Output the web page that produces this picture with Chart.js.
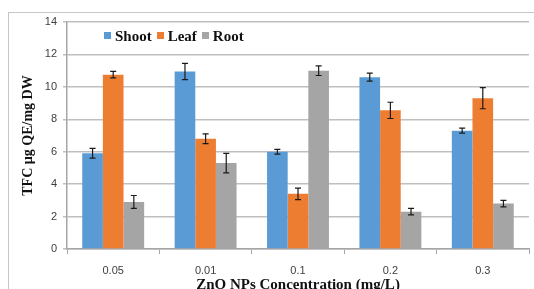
<!DOCTYPE html>
<html>
<head>
<meta charset="utf-8">
<script src="https://cdn.jsdelivr.net/npm/chart.js@4/dist/chart.umd.min.js"></script>
<style>
  html, body { margin: 0; padding: 0; background: #fff; overflow: hidden; }
  .wrap { position: relative; width: 534px; height: 289px; }
  .frame { position: absolute; left: 8px; top: 12px; width: 540px; height: 300px; border: 1.5px solid #c6c6c6; box-sizing: border-box; }
  canvas { position: absolute; left: 0; top: 0; }
  .legend { position: absolute; left: 104px; top: 28px; font: bold 15px "Liberation Serif", serif; color: #111; white-space: nowrap; }
  .legend span { margin-right: 5px; }
  .legend i { display: inline-block; width: 7px; height: 7px; margin-right: 4px; vertical-align: 2px; }
</style>
</head>
<body>
<div class="wrap">
  <div class="frame"></div>
  <canvas id="chart" width="534" height="289"></canvas>
  <div class="legend" data-legend></div>
</div>
<script>
const categories = ['0.05', '0.01', '0.1', '0.2', '0.3'];
const seriesNames = ['Shoot', 'Leaf', 'Root'];
const seriesColors = ['#5B9BD5', '#ED7D31', '#A5A5A5'];
const shoot = [5.9, 10.95, 6.0, 10.6, 7.3];
const leaf = [10.75, 6.8, 3.4, 8.55, 9.3];
const root = [2.9, 5.3, 11.0, 2.3, 2.8];
const shootErr = [0.3, 0.5, 0.15, 0.25, 0.15];
const leafErr = [0.2, 0.3, 0.35, 0.5, 0.65];
const rootErr = [0.4, 0.6, 0.3, 0.2, 0.2];
const yTicks = [0, 2, 4, 6, 8, 10, 12, 14];

const values = [shoot, leaf, root];
const errors = [shootErr, leafErr, rootErr];

const legendEl = document.querySelector('[data-legend]');
seriesNames.forEach((name, i) => {
  const s = document.createElement('span');
  s.innerHTML = `<i style="background:${seriesColors[i]}"></i>${name}`;
  legendEl.appendChild(s);
});

// barres d'erreur dessinées depuis les échelles
const errorBars = {
  id: 'errorBars',
  afterDatasetsDraw(chart) {
    const { ctx, scales: { y } } = chart;
    ctx.save();
    ctx.strokeStyle = '#1a1a1a';
    ctx.lineWidth = 1.2;
    chart.data.datasets.forEach((ds, di) => {
      const meta = chart.getDatasetMeta(di);
      meta.data.forEach((bar, i) => {
        const v = ds.data[i];
        const e = errors[di][i];
        const x = bar.x;
        const top = y.getPixelForValue(v + e);
        const bot = y.getPixelForValue(v - e);
        ctx.beginPath();
        ctx.moveTo(x, top); ctx.lineTo(x, bot);
        ctx.moveTo(x - 3, top); ctx.lineTo(x + 3, top);
        ctx.moveTo(x - 3, bot); ctx.lineTo(x + 3, bot);
        ctx.stroke();
      });
    });
    ctx.restore();
  }
};

new Chart(document.getElementById('chart'), {
  type: 'bar',
  data: {
    labels: categories,
    datasets: seriesNames.map((name, i) => ({
      label: name,
      data: values[i],
      backgroundColor: seriesColors[i],
      categoryPercentage: 0.67,
      barPercentage: 1.0,
    })),
  },
  plugins: [errorBars],
  options: {
    responsive: false,
    animation: false,
    layout: { padding: { left: 8, top: 22, right: 5, bottom: 0 } },
    plugins: { legend: { display: false }, tooltip: { enabled: false } },
    scales: {
      x: {
        afterFit: (s) => { s.height = 40; },
        grid: { drawOnChartArea: false, offset: true, tickLength: 5, color: '#a6a6a6' },
        border: { color: '#a6a6a6', width: 1.5 },
        ticks: { color: '#404040', font: { family: 'Liberation Sans', size: 11 }, padding: 10 },
        title: {
          display: true,
          text: 'ZnO NPs Concentration (mg/L)',
          color: '#111',
          font: { family: 'Liberation Serif', size: 15, weight: 'bold' },
          padding: { top: 0, bottom: -5 },
        },
      },
      y: {
        min: 0,
        max: 14,
        afterFit: (s) => { s.width = 59; },
        afterBuildTicks: (s) => { s.ticks = yTicks.map((v) => ({ value: v })); },
        grid: { color: '#bfbfbf', lineWidth: 1.5, tickLength: 4 },
        border: { color: '#a6a6a6', width: 1.5 },
        ticks: { color: '#404040', font: { family: 'Liberation Sans', size: 11 }, padding: 6 },
        title: {
          display: true,
          text: 'TFC µg QE/mg DW',
          color: '#111',
          font: { family: 'Liberation Serif', size: 14, weight: 'bold' },
          padding: { top: 12, bottom: 4 },
        },
      },
    },
  },
});
</script>
</body>
</html>
